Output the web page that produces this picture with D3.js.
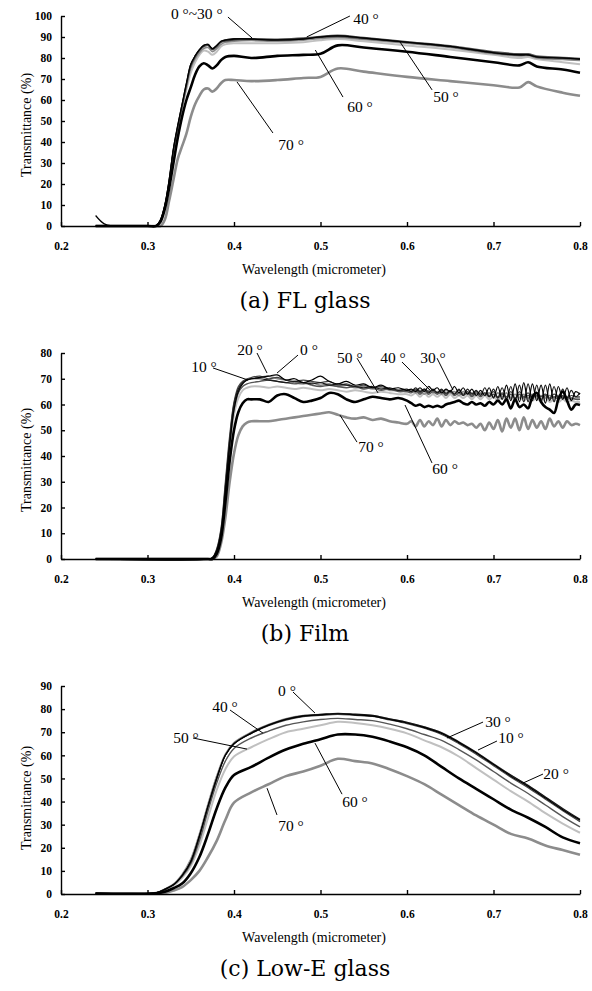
<!DOCTYPE html>
<meta charset="utf-8">
<style>
body { margin: 0; background: #fff; }
.axis path, .axis line { stroke: #000; stroke-width: 1.4px; }
.axis text { font-family: "Liberation Serif", serif; font-size: 11.5px; font-weight: bold; fill: #000; }
.axtitle { font-family: "Liberation Serif", serif; font-size: 14px; fill: #000; }
.ptitle { font-family: "DejaVu Serif", serif; font-size: 22px; fill: #000; }
.note { font-family: "Liberation Serif", serif; font-size: 15.5px; fill: #000; }
.lead { stroke: #000; stroke-width: 1px; }
.line { fill: none; stroke-linejoin: round; }
</style>
<svg width="592" height="991"></svg>
<script src="https://d3js.org/d3.v7.min.js"></script>
<script>
var angles = ["0", "10", "20", "30", "40", "50", "60", "70"];
var xTicks = [0.2, 0.3, 0.4, 0.5, 0.6, 0.7, 0.8];

// (a) FL glass
var wlA = [0.24,0.25,0.26,0.30,0.31,0.315,0.32,0.325,0.33,0.335,0.34,0.345,0.35,0.355,0.36,0.365,0.37,0.375,0.38,0.385,0.39,0.40,0.42,0.45,0.48,0.50,0.52,0.55,0.60,0.65,0.70,0.73,0.74,0.75,0.78,0.80];
var flA0  = [5,1,0,0,0,3,10,22,37,48,58,68,77,81,84,86,86.5,84.5,86,88,88.5,89,89,88.5,89,90,90.5,89.5,87.5,85.5,82.5,81.5,81.5,80.5,80,79.5];
var flA10 = [0,0,0,0,0,2.5,9,21,36,47,57,67,76,80.5,83.5,85.5,86,84,85.5,87.5,88,88.5,88.8,88.5,89,89.8,90.2,89.2,87.3,85.3,82.3,81.3,81.4,80.3,79.8,79.3];
var flA20 = [0,0,0,0,0,2.5,9,20,35,46,56,66,75,79.5,82.5,84.5,85,83,84.5,86.5,87.5,88,88.3,88,88.5,89.3,89.8,88.8,87,85,82,81,81.2,80,79.3,78.8];
var flA30 = [0,0,0,0,0,3,10,22,37,48,58,68,77,81,84,86,86.5,84.5,86,88,88.7,89.2,89.2,88.8,89.2,90.1,90.6,89.6,87.6,85.6,82.6,81.6,81.6,80.6,80.1,79.6];
var flA40 = [0,0,0,0,0,2.5,9.5,21,36,47,57,67,76,80.5,83.5,85.5,86,84,85.5,87.5,88.3,88.8,89,89,89.5,90.3,90.8,89.8,87.8,85.8,83,82,82,81,80.3,79.8];
var flA50 = [0,0,0,0,0,2,9,20,34,46,57,65,73,78,81.5,83.5,83,81.5,83,85.5,86.5,87,87,87,87.5,88.5,89,88,86,84,81.5,80,80.5,79.5,78,77];
var flA60 = [0,0,0,0,0,2,8,18,30,42,52,60,66,72,76,77.5,76.5,75,76.5,79,80.5,81,80,81,81.5,82,86,85,83,80.5,78,76.5,78,76,74.5,73];
var flA70 = [0,0,0,0,0,0,3,12,22,32,38,44,52,58,62,65,65.5,64,65.5,68,69.5,69.5,69,69.5,70.5,71,75,73.5,71,69,67,66,68.5,66.5,63.5,62];

// (b) Film
var wlB = [0.24,0.37,0.375,0.38,0.385,0.39,0.395,0.40,0.405,0.41,0.415,
  0.42,0.43,0.44,0.45,0.46,0.47,0.48,0.49,0.50,0.51,0.52,0.53,0.54,0.55,0.56,0.57,0.58,0.59,0.60,
  0.605,0.61,0.615,0.62,0.625,0.63,0.635,0.64,0.645,0.65,0.655,0.66,0.665,0.67,0.675,0.68,0.685,0.69,0.695,0.70,
  0.705,0.71,0.715,0.72,0.725,0.73,0.735,0.74,0.745,0.75,0.755,0.76,0.765,0.77,0.775,0.78,0.785,0.79,0.795,0.80];
var fmB0  = [0,0,0.5,3,10,26,44,58,65,68,69.5,
  70,70.5,71,71.5,69.5,70,68.5,69.5,71,69,68,69,67.5,68,66.5,67.5,66,66.5,65.5,
  66,65,66.5,65,67,65.5,66.5,64.5,66,65,67,64.5,66.5,64,66,63.5,65.5,63.5,66.5,62.5,
  67,62,67.5,61.5,68,61,68.5,61,68,61.5,67.5,60.5,68,61,67,62,66.5,61.5,65,64];
var fmB10 = [0,0,0.5,4,12,30,48,61,67,69,70,
  70.5,71,70,70.5,69.5,69,69.5,69,68.5,69,67.5,68,67,67.5,66.5,67,66,65.5,65.5,
  65,66,64.5,66,65,65.5,64.5,65.5,64.5,65,64,65.5,64,65,63.5,65,64,64.5,63.5,65,
  63,64.5,63,65,62.5,65,63,64.5,62.5,64.5,63,64,62.5,64,63,63.5,62.5,63.5,63,63];
var fmB20 = [0,0,0.3,3,11,28,46,60,66,68.5,69.5,
  70,70.5,71,70,69.5,68.5,68,68.5,67.5,68,67,67.5,66.5,67,66,66.5,65.5,65.5,65,
  65.5,64.5,65.5,64,65.5,64.5,65,64,65.5,64.5,65,63.5,65,64,64.5,63.5,64.5,63.5,64.5,63,
  64.5,63,64.5,62.5,64,62.5,64,62.5,64,63,63.5,62.5,63.5,62.5,63.5,62.5,63,62,62.5,62.5];
var fmB30 = [0,0,0.5,3.5,11,28,46,60,66,68.5,69.5,
  70,70,69.5,69,68.5,69,68.5,68,68.5,67.5,68,67.5,67,66.5,67,66,66.5,65.5,66,
  65,66.5,65,66,64.5,66,64.5,66,64,65.5,64,66,63.5,66,64,65.5,63.5,66.5,63,66,
  62.5,66.5,62,67,61.5,67.5,61,68,61.5,67.5,61,67.5,61.5,67,62,66,62.5,65.5,63,64.5];
var fmB40 = [0,0,0.3,2.5,10,26,44,58,64.5,67,68,
  68.5,69,69.5,69,68.5,68,68.5,67.5,67,67.5,67,66.5,67,66,66.5,65.5,66,65,65,
  64.5,65.5,64,65.5,64,65,64,65,63.5,65,63.5,64.5,63.5,64.5,63,64.5,63,64.5,63,64,
  62.5,64,62.5,64,62.5,64,62.5,63.5,62.5,63.5,62,63.5,62,63,62,63,62,62.5,62,62];
var fmB50 = [0,0,0.3,2.5,9,24,42,56,62.5,65.5,66.5,
  67,67,66.5,67,66.5,66,66.5,66,65.5,66,65.5,65,65.5,65,64.5,65,64.5,64,64,
  63.5,64.5,63,64.5,63,64,63,64,62.5,64,62.5,63.5,62.5,63.5,62,63.5,62,63.5,62,63,
  61.5,63,61.5,63,61.5,63,61.5,62.5,61.5,62.5,61,62.5,61,62,61,62,61,61.5,61,61];
var fmB60 = [0,0,0,2,8,22,38,50,57,60.5,62,
  62,62,61,63.5,64,62.5,61,61.5,62.5,64.5,64,62,61,62,63,62.5,62,62.5,61.5,
  60.5,59.5,60,59,59.5,59,59.5,59,60,60.5,61,61.5,60.5,60,61,60,60.5,59.5,61,60,
  61.5,60,62,58.5,62,59,60,58.5,63,64.5,61,59,58,56.7,62,65,61.5,58,60,59.8];
var fmB70 = [0,0,0,1,6,16,30,41,48,51.5,53,
  53.5,53.5,53.5,54,54.5,55,55.5,56,56.5,57,56,55,54.5,55,54,54.5,53.5,53,52.5,
  53.5,51.5,54,51.5,53.5,52,54.5,51.5,54,52,53.5,52.5,53,52,52.5,51,52.5,50,53,50.5,
  54,49.5,54.5,51,54.5,50,55,50.5,54,51,53.5,50.5,54.5,51.5,53.5,51,53.5,52,52.5,52];

// (c) Low-E glass
var wlC = [0.24,0.28,0.31,0.32,0.33,0.34,0.35,0.36,0.37,0.38,0.39,0.40,0.42,0.44,0.46,0.48,0.50,0.52,0.54,0.56,0.58,0.60,0.62,0.64,0.66,0.68,0.70,0.72,0.74,0.76,0.78,0.80];
var leC0  = [0.3,0.2,0.5,2,4,8,14,25,38,50,60,65,69.5,73,75.5,77,77.5,78,77.5,77,75.5,74,72,69.5,65.5,61,56,51,46.5,41.5,36.5,32];
var leC10 = [0.3,0.2,0.5,2,4,8,14,25,38,50,60,65,69.5,72.8,75.2,76.7,77.3,77.7,77.3,76.8,75.3,73.7,71.7,69,65,60.5,55.5,50.5,46,41,36,31.3];
var leC20 = [0.3,0.3,0.6,2.2,4.3,8.5,15,26,39,51,60.5,65.5,70,73.3,75.8,77.2,77.6,78,77.6,77.2,75.7,74.2,72.2,69.8,65.8,61.3,56.3,51.3,46.8,41.8,36.5,31.5];
var leC30 = [0.3,0.2,0.5,2,4,8,14,25,38,50,60,65,69.8,73.2,75.7,77.2,77.7,78.2,77.8,77.3,75.8,74.3,72.3,69.8,65.8,61.3,56.3,51.5,47,42,37,32.3];
var leC40 = [0.3,0.2,0.5,2,4,7.5,13,23,36,48,57.5,63,67.5,70.5,73,74.5,75.5,76,75.5,75,73.5,71.5,69,66.5,62.5,58,53,48,43.5,38.5,33.5,29];
var leC50 = [0.2,0.2,0.4,1.5,3.5,7,12,21,33,45,54,59.5,63.5,67,70,71.5,73,74.5,74,73,71.5,69.5,66.5,63.5,59.5,54.5,49.5,44.5,40,35,30.5,26.5];
var leC60 = [0.2,0.1,0.3,1,2.5,4.5,9,16,26,37,46,51.5,55,59,62.5,65,67,69,69,68,66,63.5,60,55,50,45.5,41,36.5,33,29,24.5,22];
var leC70 = [0.2,0.1,0.2,0.5,1.5,3,6,10,16,23,32,39.5,44,47.5,51,53,55.5,58.5,57.5,56.5,54,51,47.5,43,38.5,34,30,26,24,21,19,17];

// angle labels: text at (w, v), leader from (w1, v1) to (w2, v2)
var notesA = [
  ["0 °~30 °", 0.357, 101, 0.393, 99.5, 0.421, 89.5],
  ["40 °", 0.5526, 99, 0.534, 100, 0.484, 90],
  ["50 °", 0.645, 61.4, 0.629, 64.8, 0.592, 87.6],
  ["60 °", 0.5457, 56.7, 0.526, 61.4, 0.494, 83.8],
  ["70 °", 0.466, 38.6, 0.445, 44.3, 0.4035, 68.6]
];
var notesB = [
  ["10 °", 0.3653, 74.6, 0.3757, 74.2, 0.4162, 69.5],
  ["20 °", 0.4185, 81.2, 0.4266, 80, 0.4382, 72.2],
  ["0 °", 0.4867, 81.2, 0.474, 79.2, 0.4497, 72.2],
  ["50 °", 0.534, 78.4, 0.5422, 78, 0.5665, 64.5],
  ["40 °", 0.5838, 78.4, 0.5942, 76.5, 0.6266, 65.6],
  ["30 °", 0.63, 78.4, 0.6347, 78, 0.6532, 65.6],
  ["70 °", 0.5584, 43.5, 0.5422, 45.4, 0.5225, 55.9],
  ["60 °", 0.644, 35.3, 0.6289, 37.3, 0.5977, 59.8]
];
var notesC = [
  ["0 °", 0.4613, 88.2, 0.4682, 87.4, 0.4936, 78.3],
  ["40 °", 0.3896, 80.9, 0.3954, 79.6, 0.4335, 69.6],
  ["50 °", 0.3445, 67.5, 0.3526, 67.5, 0.415, 62.7],
  ["30 °", 0.7052, 74.8, 0.6879, 74.4, 0.6462, 67.5],
  ["10 °", 0.7202, 67.5, 0.704, 66.2, 0.6821, 62.3],
  ["20 °", 0.7723, 52.3, 0.7572, 51.9, 0.7341, 48],
  ["60 °", 0.5399, 39.8, 0.5249, 43.2, 0.4936, 65.3],
  ["70 °", 0.4659, 29.8, 0.4497, 34.2, 0.4382, 45.8]
];

var colors = ["#000", "#444", "#8a8a8a", "#1a1a1a", "#555", "#c0c0c0", "#000", "#8c8c8c"];
var widths = [1.2, 1.2, 1.6, 1.2, 1.4, 2, 2.6, 2.6];

var panels = [
  {wl: wlA, ys: [flA0, flA10, flA20, flA30, flA40, flA50, flA60, flA70], yMax: 100,
   top: 16, bottom: 226, notes: notesA, title: "(a) FL glass", ylabY: 125},
  {wl: wlB, ys: [fmB0, fmB10, fmB20, fmB30, fmB40, fmB50, fmB60, fmB70], yMax: 80,
   top: 353, bottom: 559, notes: notesB, title: "(b) Film", ylabY: 460},
  {wl: wlC, ys: [leC0, leC10, leC20, leC30, leC40, leC50, leC60, leC70], yMax: 90,
   top: 686, bottom: 894, notes: notesC, title: "(c) Low-E glass", ylabY: 798}
];

var svg = d3.select("svg");
var x = d3.scaleLinear().domain([0.2, 0.8]).range([61, 580]);

panels.forEach(function(p) {
  var y = d3.scaleLinear().domain([0, p.yMax]).range([p.bottom, p.top]);
  var g = svg.append("g");

  var line = d3.line()
      .curve(d3.curveCatmullRom.alpha(0.5))
      .x(function(d) { return x(d[0]); })
      .y(function(d) { return y(Math.max(0, d[1])); });

  // lighter lines first so the black ones sit on top
  [5, 2, 4, 7, 1, 3, 0, 6].forEach(function(i) {
    var pts = p.wl.map(function(w, k) { return [w, p.ys[i][k]]; });
    g.append("path")
      .datum(pts)
      .attr("class", "line")
      .attr("stroke", colors[i])
      .attr("stroke-width", widths[i])
      .attr("d", line);
  });

  g.append("g")
      .attr("class", "axis")
      .attr("transform", "translate(0," + p.bottom + ")")
      .call(d3.axisBottom(x).tickValues(xTicks).tickFormat(d3.format(".1f"))
        .tickSizeInner(-4).tickSizeOuter(0).tickPadding(16));

  g.append("g")
      .attr("class", "axis")
      .attr("transform", "translate(61,0)")
      .call(d3.axisLeft(y).ticks(p.yMax / 10).tickSizeInner(-4).tickSizeOuter(0).tickPadding(9));

  g.append("text")
      .attr("class", "axtitle")
      .attr("transform", "translate(26," + p.ylabY + ") rotate(-90)")
      .attr("text-anchor", "middle")
      .attr("dy", "0.35em")
      .text("Transmittance (%)");

  g.append("text")
      .attr("class", "axtitle")
      .attr("x", 314)
      .attr("y", p.bottom + 43)
      .attr("dy", "0.35em")
      .attr("text-anchor", "middle")
      .text("Wavelength (micrometer)");

  g.append("text")
      .attr("class", "ptitle")
      .attr("x", 305)
      .attr("y", p.bottom + 74)
      .attr("dy", "0.35em")
      .attr("text-anchor", "middle")
      .text(p.title);

  p.notes.forEach(function(n) {
    g.append("line")
      .attr("class", "lead")
      .attr("x1", x(n[3])).attr("y1", y(n[4]))
      .attr("x2", x(n[5])).attr("y2", y(n[6]));
    g.append("text")
      .attr("class", "note")
      .attr("x", x(n[1]))
      .attr("y", y(n[2]))
      .attr("dy", "0.35em")
      .attr("text-anchor", "middle")
      .text(n[0]);
  });
});
</script>
